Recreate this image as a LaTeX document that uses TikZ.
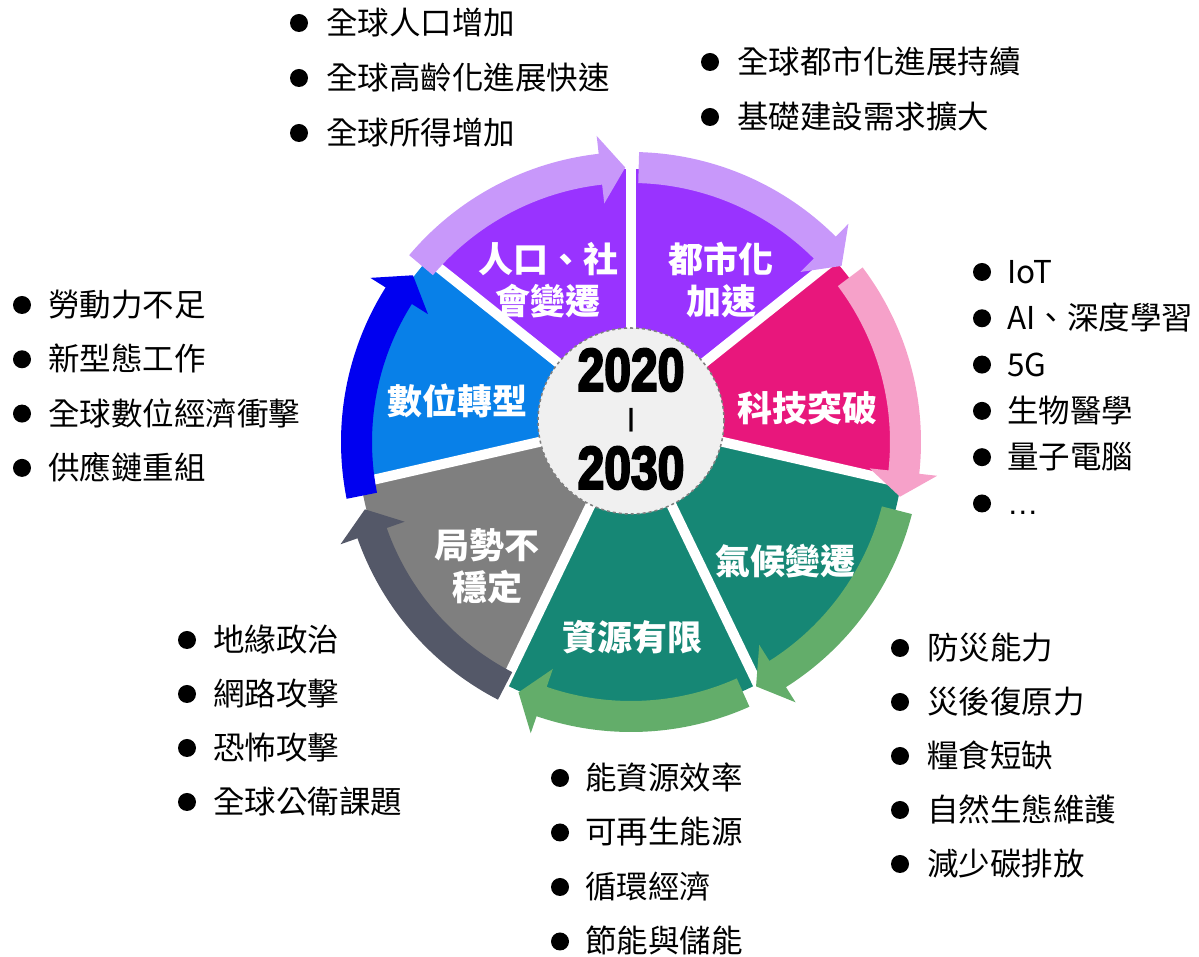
\documentclass[tikz,border=0pt]{standalone}
\usepackage{fontspec}
\newfontfamily\cjk{Noto Sans CJK TC}
\newfontfamily\yearfont{Liberation Sans}
\usetikzlibrary{calc}

\definecolor{wpurple}{HTML}{9933FF}
\definecolor{apurple}{HTML}{C898FA}
\definecolor{wpink}{HTML}{E8177C}
\definecolor{apink}{HTML}{F6A1C9}
\definecolor{wteal}{HTML}{168775}
\definecolor{agreen}{HTML}{63AD6A}
\definecolor{wgray}{HTML}{7F7F7F}
\definecolor{agray}{HTML}{545868}
\definecolor{wblue}{HTML}{0880E8}
\definecolor{ablue}{HTML}{0000F0}
\definecolor{hub}{HTML}{F0F0F0}

% pie piece round C between two angles
\newcommand{\piece}[3]{\fill[#1] (C) -- ($(C)+(#2:420)$) -- ($(C)+({(#2+#3)/2}:470)$) -- ($(C)+(#3:420)$) -- cycle;}
% curved arrow on the ring round R: colour, tail angle, tip angle
\newcommand{\ringarrow}[3]{\fill[#1] ($(R)+(#2:290)$) arc[start angle=#2, end angle={#3+5.2}, radius=290]
	-- ($(R)+({#3+5.2}:308)$) -- ($(R)+(#3:274.5)$) -- ($(R)+({#3+5.2}:240)$)
	-- ($(R)+({#3+5.2}:259)$) arc[start angle={#3+5.2}, end angle=#2, radius=259] -- cycle;}
% heavy condensed year digits (fill + stroke)
\newcommand{\yr}[1]{\special{pdf:literal direct 2 Tr 2.4 w 0 g 0 G}\scalebox{0.8}[1]{#1}\special{pdf:literal direct 0 Tr 1 w}}

\begin{document}
\begin{tikzpicture}[x=1pt, y=1pt,
	lbl/.style={text=white, font=\cjk\bfseries\fontsize{35}{42}\selectfont, align=center, inner sep=0},
	item/.style={anchor=west, font=\cjk\fontsize{31.5}{31.5}\selectfont, inner sep=0, text height=27, text depth=4},
	yeartxt/.style={font=\yearfont\bfseries\fontsize{60}{60}\selectfont, inner sep=0}]
	\useasboundingbox (0,0) rectangle (1199,957);
	
	\coordinate (C) at (631,536);
	\coordinate (R) at (631,515);
	
	% pieces
	\begin{scope}
	\clip (R) circle (273);
	\piece{wpurple}{90}{141.43}
	\piece{wpurple}{38.57}{90}
	\piece{wpink}{-12.86}{38.57}
	\piece{wteal}{-64.29}{-12.86}
	\piece{wteal}{-115.71}{-64.29}
	\piece{wgray}{-167.14}{-115.71}
	\piece{wblue}{141.43}{192.86}
	\end{scope}
	\foreach \a in {90, 38.57, -12.86, -64.29, -115.71, -167.14, 141.43}
	\draw[white, line width=10] (C) -- ($(C)+(\a:300)$);
	
	% arrows round the ring
	\ringarrow{apink}{37}{-11.5}
	\ringarrow{apurple}{88.4}{39.9}
	\ringarrow{apurple}{139.9}{91.2}
	\ringarrow{ablue}{191.3}{142.6}
	\ringarrow{agray}{242.7}{194.2}
	\ringarrow{agreen}{294.1}{245.8}
	\ringarrow{agreen}{345.6}{297.1}
	
	% hub
	\node[circle, minimum size=186, fill=hub, draw=wgray, dashed, line width=1.5] (hub) at (C) {};
	\node[yeartxt] (y1) at (631,587) {\yr{2020}};
	\node[font=\yearfont\bfseries\fontsize{25}{25}\selectfont, inner sep=0] (bar) at (631,537) {|};
	\node[yeartxt] (y2) at (631,489) {\yr{2030}};
	
	\node[lbl] (soc) at (548,677) {人口、社\\會變遷};
	\node[lbl] (urb) at (721,677) {都市化\\加速};
	\node[lbl] (tech) at (807,549) {科技突破};
	\node[lbl] (clim) at (785,396) {氣候變遷};
	\node[lbl] (res) at (632,320) {資源有限};
	\node[lbl] (geo) at (487,391) {局勢不\\穩定};
	\node[lbl] (dig) at (457,556) {數位轉型};
	
	% lists
	\coordinate (l1) at (299,934);
	\coordinate (l2) at (710,895);
	\coordinate (l3) at (982,685);
	\coordinate (l4) at (22,652);
	\coordinate (l5) at (187,317);
	\coordinate (l6) at (900,309);
	\coordinate (l7) at (560,179);
	\foreach \t [count=\i] in {全球人口增加, 全球高齡化進展快速, 全球所得增加}{
		\fill ($(l1)+(0,{-55*(\i-1)})$) circle (9);
		\node[item] (soc-\i) at ($(l1)+(27,{-55*(\i-1)})$) {\t};
	}
	\foreach \t [count=\i] in {全球都市化進展持續, 基礎建設需求擴大}{
		\fill ($(l2)+(0,{-55*(\i-1)})$) circle (9);
		\node[item] (urb-\i) at ($(l2)+(27,{-55*(\i-1)})$) {\t};
	}
	\foreach \t [count=\i] in {IoT, AI、深度學習, 5G, 生物醫學, 量子電腦, {\yearfont …}}{
		\fill ($(l3)+(0,{-46.3*(\i-1)})$) circle (9);
		\node[item] (tech-\i) at ($(l3)+(25,{-46.3*(\i-1)})$) {\t};
	}
	\foreach \t [count=\i] in {勞動力不足, 新型態工作, 全球數位經濟衝擊, 供應鏈重組}{
		\fill ($(l4)+(0,{-54.3*(\i-1)})$) circle (9);
		\node[item] (dig-\i) at ($(l4)+(26,{-54.3*(\i-1)})$) {\t};
	}
	\foreach \t [count=\i] in {地緣政治, 網路攻擊, 恐怖攻擊, 全球公衛課題}{
		\fill ($(l5)+(0,{-54*(\i-1)})$) circle (9);
		\node[item] (geo-\i) at ($(l5)+(26,{-54*(\i-1)})$) {\t};
	}
	\foreach \t [count=\i] in {防災能力, 災後復原力, 糧食短缺, 自然生態維護, 減少碳排放}{
		\fill ($(l6)+(0,{-54*(\i-1)})$) circle (9);
		\node[item] (clim-\i) at ($(l6)+(27,{-54*(\i-1)})$) {\t};
	}
	\foreach \t [count=\i] in {能資源效率, 可再生能源, 循環經濟, 節能與儲能}{
		\fill ($(l7)+(0,{-54.5*(\i-1)})$) circle (9);
		\node[item] (res-\i) at ($(l7)+(25,{-54.5*(\i-1)})$) {\t};
	}
\end{tikzpicture}
\end{document}
